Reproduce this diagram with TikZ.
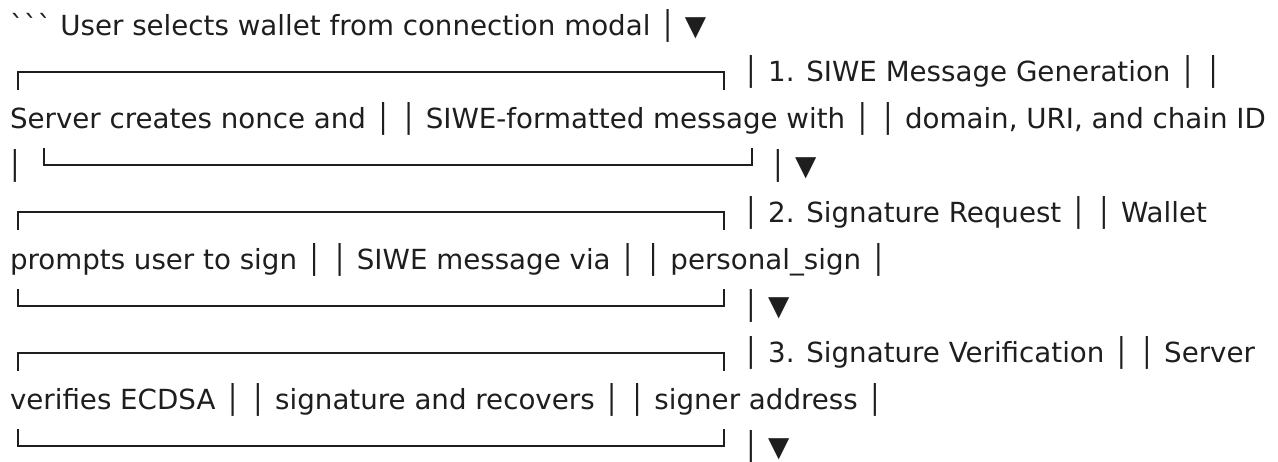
\documentclass[tikz,border=0pt]{standalone}
\usepackage{xcolor}
\font\dvraw="DejaVu Sans" at 27.7pt
\definecolor{ink}{HTML}{1E1E1E}
\tikzset{
  txt/.style={font=\dvraw, inner sep=0pt, outer sep=0pt, text=ink, anchor=base west},
  boxline/.style={draw=ink, line width=2pt}
}
\begin{document}
\begin{tikzpicture}[x=1pt,y=-1pt]
\useasboundingbox (0,0) rectangle (1278,461);
\fill[white] (0,0) rectangle (1278,461);
% line 1
\node[txt] (l1) at (10,35) {``` User selects wallet from connection modal │ ▼};
% line 2
\draw[boxline] (18,89.8) -- (18,71.8) -- (724,71.8) -- (724,89.8);
\node[txt] (l2) at (742.7,81.8) {│ 1. SIWE Message Generation │ │};
% line 3
\node[txt] (l3) at (10,128.6) {Server creates nonce and │ │ SIWE-formatted message with │ │ domain, URI, and chain ID};
% line 4
\node[txt] (l4a) at (6.7,175.4) {│};
\draw[boxline] (44,148.4) -- (44,165.4) -- (752,165.4) -- (752,148.4);
\node[txt] (l4b) at (769.7,175.4) {│ ▼};
% line 5
\draw[boxline] (18,230.2) -- (18,212.2) -- (724,212.2) -- (724,230.2);
\node[txt] (l5) at (742.7,222.2) {│ 2. Signature Request │ │ Wallet};
% line 6
\node[txt] (l6) at (10,269) {prompts user to sign │ │ SIWE message via │ │ personal\char95 sign │};
% line 7
\draw[boxline] (18,288.8) -- (18,305.8) -- (724,305.8) -- (724,288.8);
\node[txt] (l7) at (742.7,315.8) {│ ▼};
% line 8
\draw[boxline] (18,370.6) -- (18,352.6) -- (724,352.6) -- (724,370.6);
\node[txt] (l8) at (742.7,362.6) {│ 3. Signature Verification │ │ Server};
% line 9
\node[txt] (l9) at (10,409.4) {verifies ECDSA │ │ signature and recovers │ │ signer address │};
% line 10
\draw[boxline] (18,429.2) -- (18,446.2) -- (724,446.2) -- (724,429.2);
\node[txt] (l10) at (742.7,456.2) {│ ▼};
\end{tikzpicture}
\end{document}
